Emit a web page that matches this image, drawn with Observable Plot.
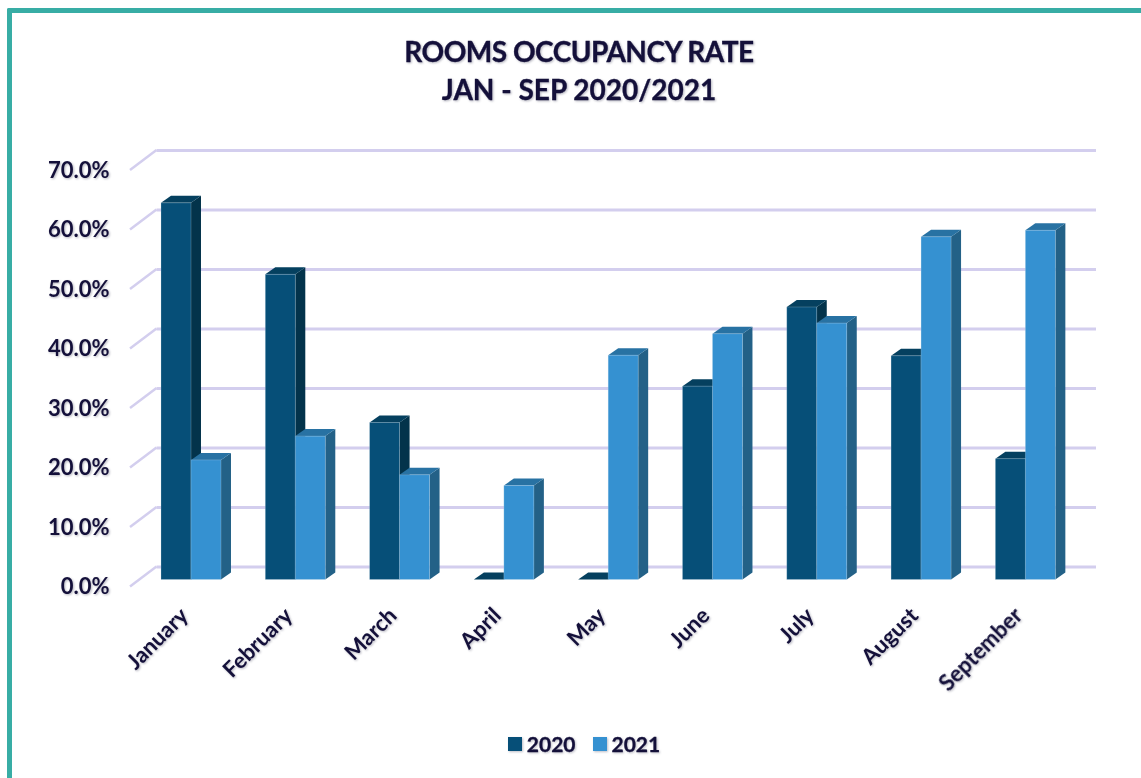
<!DOCTYPE html>
<html>
<head>
<meta charset="utf-8">
<script src="https://cdn.jsdelivr.net/npm/d3@7"></script>
<script src="https://cdn.jsdelivr.net/npm/@observablehq/plot@0.6"></script>
<style>
  html, body { margin: 0; padding: 0; background: #fff; }
  body { width: 1141px; height: 778px; overflow: hidden; position: relative; font-family: Lato, sans-serif; color: #14103a; }
  #frame { position: absolute; left: 7px; top: 8px; right: -10px; bottom: -10px; border-left: 5px solid #38ada5; border-top: 5px solid #38ada5; border-top-left-radius: 2px; }
  #title { position: relative; height: 120px; box-sizing: border-box; padding-top: 32px; padding-left: 17px; text-align: center; font-size: 28px; font-weight: 700; line-height: 38px; -webkit-text-stroke: 0.3px #14103a; filter: drop-shadow(1px 1px 1px rgba(40,40,70,.35)); }
  #title .first { letter-spacing: -0.5px; }
  #chart { position: relative; height: 590px; }
  #chart svg { display: block; overflow: visible; }
  #legend { position: relative; display: flex; justify-content: center; align-items: center; padding-left: 27px; margin-top: 20px; font-size: 21px; font-weight: 700; line-height: 28px; -webkit-text-stroke: 0.3px #14103a; filter: drop-shadow(1px 1px 1px rgba(40,40,70,.3)); }
  #legend i { display: inline-block; width: 14px; height: 14px; margin-right: 5px; }
  #legend span { display: inline-flex; align-items: center; margin-right: 17px; }
  #legend span:last-child { margin-right: 0; }
  g[aria-label="y-axis tick label"], g[aria-label="x-axis tick label"] { filter: drop-shadow(1px 1px 1px rgba(40,40,70,.35)); -webkit-text-stroke: 0.3px #14103a; }
</style>
</head>
<body>
<div id="frame"></div>
<div id="title"><span class="first">ROOMS OCCUPANCY RATE</span><br>JAN - SEP 2020/2021</div>
<div id="chart"></div>
<div id="legend"></div>
<script>
const months = ["January","February","March","April","May","June","July","August","September"];
const rate2020 = [63.3, 51.3, 26.4, 0, 0, 32.5, 45.8, 37.6, 20.3];
const rate2021 = [20.1, 24.1, 17.6, 15.8, 37.7, 41.3, 43.1, 57.6, 58.7];
const yTicks = [0, 10, 20, 30, 40, 50, 60, 70];
const seriesNames = ["2020", "2021"];

const palette2020 = {front: "#064f78", side: "#03334b", top: "#05405f"};
const palette2021 = {front: "#3591d1", side: "#236187", top: "#2872a3"};
const depthX = 10, depthY = 7;
const wallX = 26.5, wallBack = 13, wallFront = 7;
const gridColor = "#d3ceee";

function bars3d(values, palette, offset) {
  return Plot.barY(months.map((m, i) => ({month: m, value: values[i]})), {
    x: "month",
    y: "value",
    dx: offset,
    fill: palette.front,
    stroke: "#cfe0ef",
    strokeWidth: 0.8,
    strokeOpacity: 0.3,
    render(index, scales, vals, dims, context, next) {
      const outer = d3.create("svg:g");
      const w = scales.x.bandwidth();
      for (const i of index) {
        const x0 = scales.x(months[i]) + offset, x1 = x0 + w;
        const yb = scales.y(0), yt = scales.y(values[i]);
        outer.append("polygon").attr("fill", palette.side)
          .attr("points", [[x1,yb],[x1+depthX,yb-depthY],[x1+depthX,yt-depthY],[x1,yt]].join(" "));
        outer.append("polygon").attr("fill", palette.top)
          .attr("points", [[x0,yt],[x0+depthX,yt-depthY],[x1+depthX,yt-depthY],[x1,yt]].join(" "));
      }
      outer.append(() => next(index, scales, vals, dims, context));
      return outer.node();
    }
  });
}

const plot = Plot.plot({
  width: 1141,
  height: 590,
  marginTop: 43,
  marginBottom: 130.5,
  marginLeft: 156.5,
  marginRight: 45,
  style: {background: "transparent", fontFamily: "Lato, sans-serif", color: "#14103a", overflow: "visible"},
  x: {domain: months, range: [138.85, 1077.5], paddingInner: 0.7124, paddingOuter: 0.3562, align: 0.5, round: false, label: null},
  y: {domain: [0, 70], label: null},
  marks: [
    Plot.ruleY(yTicks, {
      y: d => d,
      dy: -wallBack,
      stroke: gridColor,
      strokeWidth: 3,
      render(index, scales, vals, dims, context, next) {
        const outer = d3.create("svg:g");
        for (const i of index) {
          const y = scales.y(yTicks[i]);
          outer.append("line")
            .attr("x1", dims.marginLeft - wallX).attr("y1", y + wallFront)
            .attr("x2", dims.marginLeft).attr("y2", y - wallBack)
            .attr("stroke", gridColor).attr("stroke-width", 2.5);
        }
        outer.append(() => next(index, scales, vals, dims, context));
        return outer.node();
      }
    }),
    bars3d(rate2020, palette2020, -15),
    bars3d(rate2021, palette2021, 15),
    Plot.axisY(yTicks, {
      anchor: "left",
      tickSize: 0,
      tickPadding: 47.5,
      dy: wallFront,
      tickFormat: d => d.toFixed(1) + "%",
      fontSize: 22,
      fontWeight: 700,
      fill: "#14103a",
      label: null
    }),
    Plot.axisX({
      anchor: "bottom",
      tickSize: 0,
      tickPadding: 14,
      tickRotate: -45,
      dx: -7,
      dy: 18,
      fontSize: 22,
      fontWeight: 700,
      fill: "#14103a",
      label: null
    })
  ]
});
document.getElementById("chart").appendChild(plot);

const legend = document.getElementById("legend");
seriesNames.forEach((name, i) => {
  const s = document.createElement("span");
  const sw = document.createElement("i");
  sw.style.background = [palette2020.front, palette2021.front][i];
  s.appendChild(sw);
  s.appendChild(document.createTextNode(name));
  legend.appendChild(s);
});
</script>
</body>
</html>
